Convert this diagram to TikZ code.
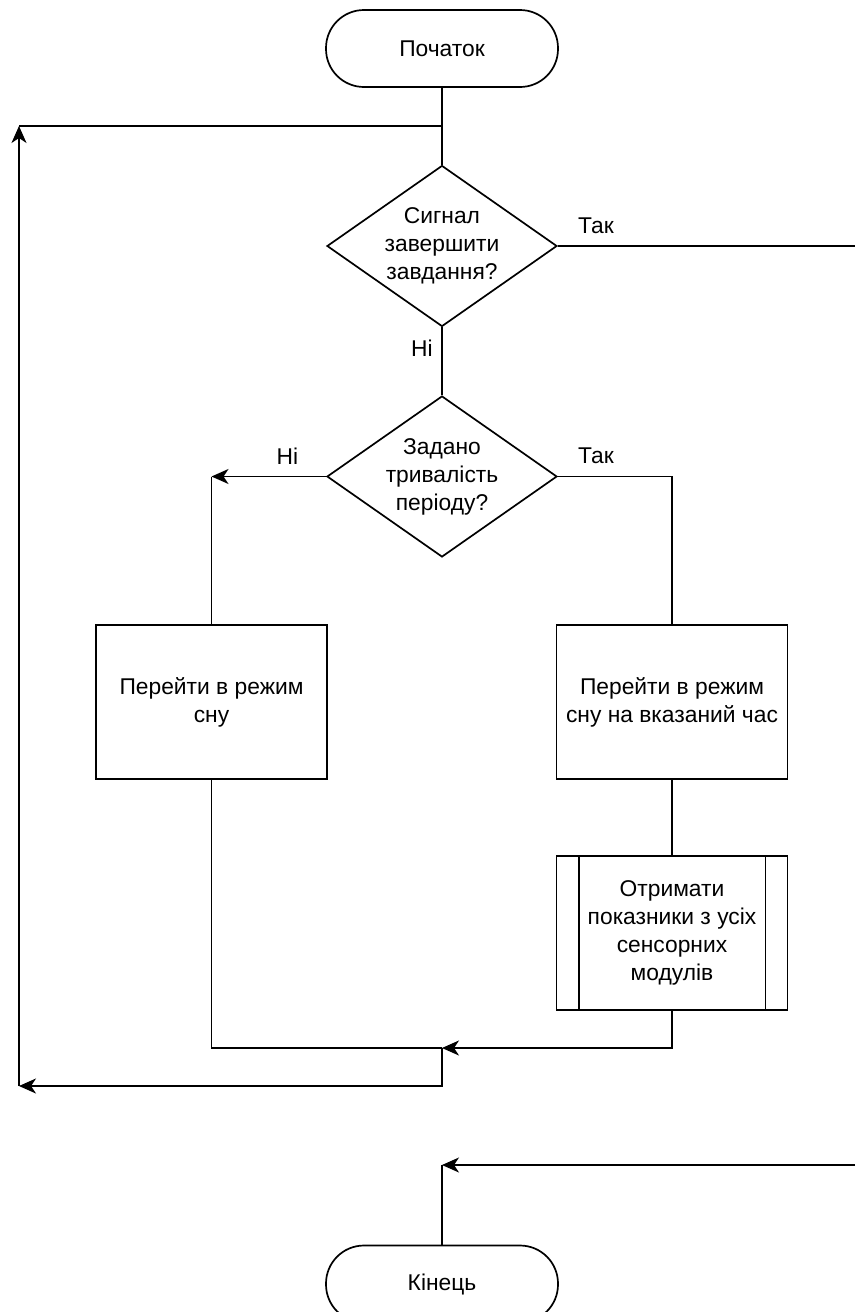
\documentclass[tikz,border=0pt]{standalone}
\usepackage{fontspec}
\setmainfont{Liberation Sans}
\usetikzlibrary{shapes.geometric,arrows.meta}
\begin{document}
\begin{tikzpicture}[x=1pt,y=-1pt,line width=1.7pt,
    font=\fontsize{22.8}{28}\selectfont,
    flow/.style={-{Stealth[length=17pt,width=15pt,inset=5pt]}},
    term/.style={draw,rectangle,rounded corners=38pt,minimum width=232pt,minimum height=77pt},
    ask/.style={draw,diamond,aspect=1.43,inner sep=0pt,minimum width=230pt,minimum height=161pt,align=center},
    act/.style={draw,rectangle,minimum width=231pt,minimum height=154pt,align=center},
    lbl/.style={inner sep=0pt}]
        \useasboundingbox (0,0) rectangle (855,1312);
        % blocks
        \node[term] (start) at (442,48.5) {Початок};
        \node[ask] (stop) at (442,246) {Сигнал\\завершити\\завдання?};
        \node[ask] (period) at (442,476.5) {Задано\\тривалість\\періоду?};
        \node[act] (sleep) at (211.5,702) {Перейти в режим\\сну};
        \node[act] (sleeptime) at (672,702) {Перейти в режим\\сну на вказаний час};
        \node[act] (sensors) at (672,933) {Отримати\\показники з усіх\\сенсорних\\модулів};
        \draw ([xshift=23pt]sensors.north west) -- ([xshift=23pt]sensors.south west);
        \draw ([xshift=-23pt]sensors.north east) -- ([xshift=-23pt]sensors.south east);
        \node[term] (finish) at (442,1284) {Кінець};
        % turning points
        \coordinate (jtop) at (442,126);
        \coordinate (ltop) at (19,126);
        \coordinate (lbot) at (19,1086);
        \coordinate (jlow) at (442,1086);
        \coordinate (jmid) at (442,1048);
        \coordinate (lturn) at (211.5,476.5);
        \coordinate (rturn) at (672,476.5);
        \coordinate (lmerge) at (211.5,1048);
        \coordinate (rmerge) at (672,1048);
        \coordinate (exitA) at (855,246);
        \coordinate (exitB) at (855,1165);
        \coordinate (jend) at (442,1165);
        % connectors
        \draw (start) -- (stop);
        \draw (stop) -- (exitA);
        \draw (stop) -- (period);
        \draw[flow] (period) -- (lturn);
        \draw (lturn) -- (sleep);
        \draw (period) -- (rturn) -- (sleeptime);
        \draw (sleeptime) -- (sensors);
        \draw (sleep) -- (lmerge) -- (jmid);
        \draw[flow] (sensors) -- (rmerge) -- (jmid);
        \draw[flow] (jmid) -- (jlow) -- (lbot);
        \draw[flow] (lbot) -- (ltop);
        \draw (ltop) -- (jtop);
        \draw[flow] (exitB) -- (jend);
        \draw (jend) -- (finish);
        % labels
        \node[lbl] (yesA) at (596,226) {Так};
        \node[lbl] (noA) at (422,348) {Ні};
        \node[lbl] (noB) at (287.5,456) {Ні};
        \node[lbl] (yesB) at (596,456) {Так};
\end{tikzpicture}
\end{document}
